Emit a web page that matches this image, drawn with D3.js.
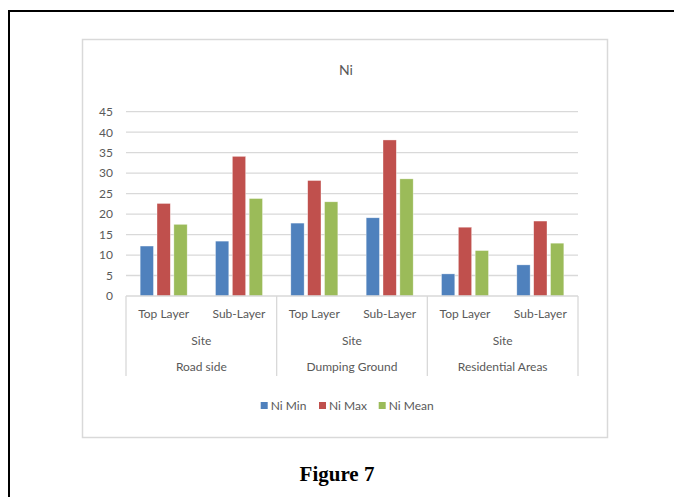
<!DOCTYPE html>
<html>
<head>
<meta charset="utf-8">
<script src="https://cdn.jsdelivr.net/npm/d3@7"></script>
<style>
  html, body { margin: 0; padding: 0; background: #fff; }
  svg { display: block; }
</style>
</head>
<body>
<svg id="chart" width="674" height="497"></svg>
<script>
// Ni concentrations by site and layer
const categories = ["Top Layer", "Sub-Layer", "Top Layer", "Sub-Layer", "Top Layer", "Sub-Layer"];
const siteLabels = ["Site", "Site", "Site"];
const groups = ["Road side", "Dumping Ground", "Residential Areas"];
const seriesNames = ["Ni Min", "Ni Max", "Ni Mean"];
const niMin  = [12.2, 13.4, 17.8, 19.1, 5.4, 7.6];
const niMax  = [22.6, 34.1, 28.2, 38.1, 16.8, 18.3];
const niMean = [17.5, 23.8, 23.0, 28.6, 11.1, 12.9];
const yTicks = [0, 5, 10, 15, 20, 25, 30, 35, 40, 45];
const colors = ["#4F81BD", "#C0504D", "#9BBB59"];

const seriesValues = [niMin, niMax, niMean];
const font = "Lato, 'Open Sans', 'Liberation Sans', sans-serif";
const textColor = "#595959";

const svg = d3.select("#chart");

// page frame
svg.append("path")
  .attr("d", "M9,500 L9,11 L680,11")
  .attr("fill", "none").attr("stroke", "#000").attr("stroke-width", 2);

// chart area border
svg.append("rect")
  .attr("x", 82.5).attr("y", 39.5).attr("width", 525).attr("height", 398)
  .attr("fill", "#fff").attr("stroke", "#D9D9D9").attr("stroke-width", 1.5);

const plot = { left: 126, right: 578, top: 111.7, bottom: 296 };

const x0 = d3.scaleBand()
  .domain(d3.range(categories.length))
  .range([plot.left, plot.right])
  .padding(0);

const x1 = d3.scaleBand()
  .domain(seriesNames)
  .range([0, x0.bandwidth()])
  .paddingInner(0.21)
  .paddingOuter(0.84);

const y = d3.scaleLinear().domain([0, 45]).range([plot.bottom, plot.top]);

// gridlines
svg.append("g").selectAll("line").data(yTicks.filter(t => t > 0)).join("line")
  .attr("x1", plot.left).attr("x2", plot.right)
  .attr("y1", d => y(d)).attr("y2", d => y(d))
  .attr("stroke", "#D9D9D9").attr("stroke-width", 1.3);

// y axis labels
const yAxis = d3.axisLeft(y).tickValues(yTicks).tickSize(0).tickPadding(0);
const yg = svg.append("g").attr("transform", `translate(${plot.left - 13},0)`).call(yAxis);
yg.select(".domain").remove();
yg.selectAll("text")
  .attr("font-family", font).attr("font-size", 12).attr("fill", textColor);

// bars
const rows = categories.map((c, i) => ({ i, vals: seriesNames.map((s, k) => ({ s, k, v: seriesValues[k][i] })) }));
const cat = svg.append("g").selectAll("g").data(rows).join("g")
  .attr("transform", d => `translate(${x0(d.i)},0)`);
cat.selectAll("rect").data(d => d.vals).join("rect")
  .attr("x", d => x1(d.s))
  .attr("width", x1.bandwidth())
  .attr("y", d => y(d.v))
  .attr("height", d => y(0) - y(d.v))
  .attr("fill", d => colors[d.k])
  .attr("stroke", "#fff").attr("stroke-opacity", 0.6).attr("stroke-width", 0.6);

// category axis line
svg.append("line")
  .attr("x1", plot.left).attr("x2", plot.right)
  .attr("y1", plot.bottom).attr("y2", plot.bottom)
  .attr("stroke", "#D9D9D9").attr("stroke-width", 1.3);

// group dividers
const bounds = [0, 2, 4, 6].map(i => i < 6 ? x0(i) : plot.right);
svg.append("g").selectAll("line").data(bounds).join("line")
  .attr("x1", d => d).attr("x2", d => d)
  .attr("y1", plot.bottom).attr("y2", 376)
  .attr("stroke", "#D9D9D9").attr("stroke-width", 1.3);

// level labels
const lbl = svg.append("g")
  .attr("font-family", font).attr("font-size", 12).attr("fill", textColor)
  .attr("text-anchor", "middle");
lbl.selectAll("text.cat").data(categories).join("text").attr("class", "cat")
  .attr("x", (d, i) => x0(i) + x0.bandwidth() / 2)
  .attr("y", 318).text(d => d);
lbl.selectAll("text.site").data(siteLabels).join("text").attr("class", "site")
  .attr("x", (d, i) => x0(i * 2) + x0.bandwidth())
  .attr("y", 345).text(d => d);
lbl.selectAll("text.grp").data(groups).join("text").attr("class", "grp")
  .attr("x", (d, i) => x0(i * 2) + x0.bandwidth())
  .attr("y", 371).text(d => d);

// title
svg.append("text")
  .attr("x", 346).attr("y", 75).attr("text-anchor", "middle")
  .attr("font-family", font).attr("font-size", 14).attr("fill", textColor)
  .text("Ni");

// legend
const legendX = [260.7, 319, 378.7];
const leg = svg.append("g").selectAll("g").data(seriesNames).join("g")
  .attr("transform", (d, i) => `translate(${legendX[i]},402)`);
leg.append("rect").attr("width", 7).attr("height", 7)
  .attr("fill", (d, i) => colors[i]);
leg.append("text").attr("x", 10).attr("y", 7.5)
  .attr("font-family", font).attr("font-size", 12).attr("fill", textColor)
  .text(d => d);

// figure caption
svg.append("text")
  .attr("x", 337).attr("y", 481).attr("text-anchor", "middle")
  .attr("font-family", "'Liberation Serif', 'Times New Roman', serif")
  .attr("font-weight", "bold").attr("font-size", 21).attr("fill", "#000")
  .text("Figure 7");
</script>
</body>
</html>
